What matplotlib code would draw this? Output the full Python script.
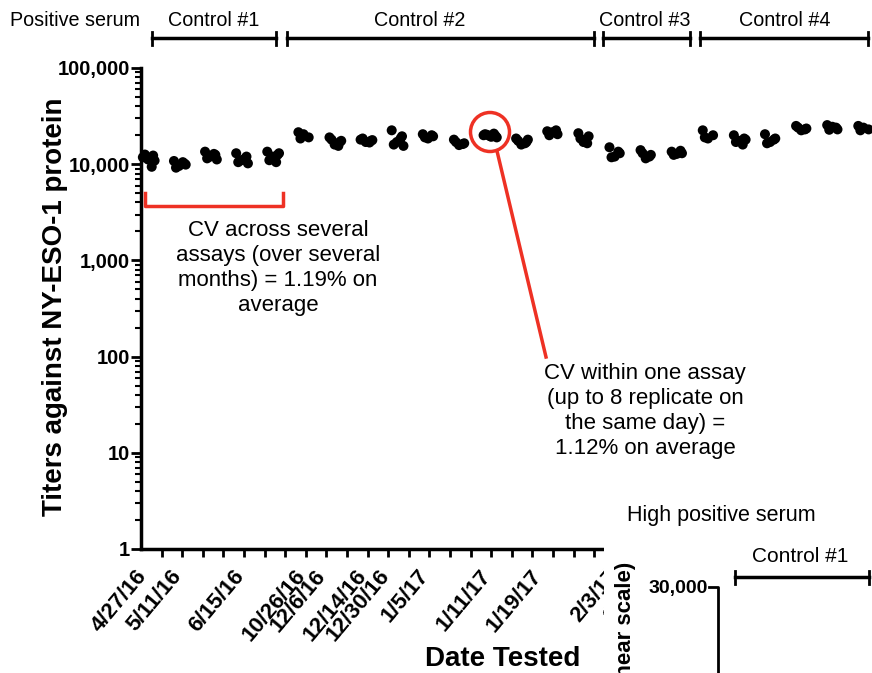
import matplotlib
matplotlib.use("Agg")
import matplotlib.pyplot as plt
from matplotlib.lines import Line2D
from matplotlib.patches import Ellipse
from matplotlib.transforms import ScaledTranslation
from matplotlib.ticker import FixedLocator, LogLocator, FuncFormatter, NullFormatter

plt.rcParams['font.family'] = ['Liberation Sans', 'DejaVu Sans']

# ---------------- data ----------------
control1_titers = [
    [11800, 12300, 11200, 12600, 9400, 10900],
    [10800, 10200, 9600, 9200, 10500, 9900],
    [13500, 12500, 12000, 11500, 12800, 11200],
    [13000, 12000, 11000, 10500, 11500, 10200],
    [13500, 12500, 12000, 11000, 10500, 13000],
]
control2_titers = [
    [21500, 19000, 20500, 18500],
    [19000, 17000, 16000, 18000, 15500, 17500],
    [18000, 17500, 17000, 18500, 16800, 17800],
    [22500, 19500, 17000, 16000, 18500, 15500],
    [20500, 19500, 18500, 19000, 20000],
    [18000, 16500, 15800, 17000, 16200],
    [20500, 19800, 19500, 20200, 20800, 19000, 20000, 19300],
    [18500, 17000, 16000, 17500, 16500, 18000],
    [22000, 20500, 21500, 20000, 22500],
    [21000, 19500, 17000, 18500, 16500],
]
control3_titers = [
    [15000, 13000, 12000, 11800, 13500],
    [14000, 12500, 11500, 13000, 12000],
    [13500, 13000, 12800, 12500, 13800],
]
control4_titers = [
    [22500, 20000, 18500, 19000],
    [20000, 18500, 17500, 17000, 16000, 18000],
    [20500, 18500, 17000, 16500, 18000],
    [25000, 23500, 22500, 24000, 23000],
    [25500, 23000, 24500, 22800, 24000],
    [25000, 23000, 24000, 22500],
]
date_labels = ["4/27/16", "5/11/16", "6/15/16", "10/26/16", "12/6/16", "12/14/16",
               "12/30/16", "1/5/17", "1/11/17", "1/19/17", "2/3/17", "2/9/17"]
date_label_pos = [0.0, 1.7, 4.75, 7.7, 8.7, 10.7, 11.8, 13.7, 16.7, 19.2, 22.9, 24.5]
ytick_values = [1, 10, 100, 1000, 10000, 100000]
control_names = ["Control #1", "Control #2", "Control #3", "Control #4"]

# ---------------- figure ----------------
W, H = 872, 673
fig = plt.figure(figsize=(W / 100, H / 100), dpi=100)

def fx(x):
    return x / W

def fy(y):
    return 1 - y / H

TICK_PX = 20.6
ax = fig.add_axes([fx(141), fy(549), (W - 141) / W, (549 - 68) / H])
ax.set_yscale('log')
ax.set_ylim(1, 100000)
ax.set_xlim(0, (W - 141) / TICK_PX)

all_groups = control1_titers + control2_titers + control3_titers + control4_titers
X0, STEP = 0.34, 1.51
offsets = [-0.25, 0.25, 0.0, -0.15, 0.18, 0.32, -0.32, 0.06]
xs, ys = [], []
for i, grp in enumerate(all_groups):
    for j, v in enumerate(grp):
        xs.append(X0 + STEP * i + offsets[j % len(offsets)])
        ys.append(v)
ax.scatter(xs, ys, s=52, c='black', edgecolors='none', zorder=3, clip_on=False)

# spines
for s in ['top', 'right']:
    ax.spines[s].set_visible(False)
for s in ['left', 'bottom']:
    ax.spines[s].set_linewidth(2.5)

ax.yaxis.set_major_locator(FixedLocator(ytick_values))
ax.yaxis.set_major_formatter(FuncFormatter(lambda v, p: f"{v:,.0f}"))
ax.yaxis.set_minor_locator(LogLocator(base=10, subs=range(2, 10)))
ax.yaxis.set_minor_formatter(NullFormatter())
ax.tick_params(axis='y', which='major', direction='out', length=7, width=2, labelsize=14.5, pad=1)
ax.tick_params(axis='y', which='minor', direction='out', length=4, width=1.5)
for lab in ax.get_yticklabels():
    lab.set_fontweight('bold')

# x: tick marks as minor ticks, date labels as (markless) major ticks
ax.xaxis.set_minor_locator(FixedLocator(list(range(0, 36))))
ax.xaxis.set_major_locator(FixedLocator(date_label_pos))
ax.set_xticklabels(date_labels, rotation=50, ha='right', rotation_mode='anchor',
                   fontsize=16, fontweight='bold')
ax.tick_params(axis='x', which='minor', direction='out', length=6, width=2)
ax.tick_params(axis='x', which='major', length=0, pad=12)
shift = ScaledTranslation(-6 / 100, 0, fig.dpi_scale_trans)
for lab in ax.get_xticklabels():
    lab.set_transform(lab.get_transform() + shift)

# axis labels
fig.text(fx(55), fy(307), "Titers against NY-ESO-1 protein", rotation=90,
         ha='center', va='center', fontsize=20, fontweight='bold')
fig.text(fx(503), fy(659), "Date Tested", ha='center', va='center',
         fontsize=20, fontweight='bold')

# top annotations
fig.text(fx(10), fy(21), "Positive serum", ha='left', va='center', fontsize=14.2)
brackets = [(152, 276), (287, 594), (603, 690), (700, 868)]
text_x = [214, 420, 645, 785]
for (x1, x2), tx, name in zip(brackets, text_x, control_names):
    fig.add_artist(Line2D([fx(x1), fx(x2)], [fy(38), fy(38)], color='black', lw=2.5))
    for xe in (x1, x2):
        fig.add_artist(Line2D([fx(xe), fx(xe)], [fy(32), fy(45)], color='black', lw=2))
    fig.text(fx(tx), fy(21), name, ha='center', va='center', fontsize=14.2)

RED = '#ee3124'
fig.add_artist(Line2D([fx(145), fx(145), fx(283), fx(283)], [fy(193), fy(206), fy(206), fy(193)],
                      color=RED, lw=2.5))
fig.text(fx(278), fy(268), "CV across several\nassays (over several\nmonths) = 1.19% on\naverage",
         ha='center', va='center', fontsize=16, linespacing=1.24)

fig.add_artist(Ellipse((fx(490), fy(132)), 2 * 19.5 / W, 2 * 19.5 / H, transform=fig.transFigure,
                       fill=False, edgecolor=RED, lw=2.5, zorder=5))
fig.add_artist(Line2D([fx(497), fx(546)], [fy(151), fy(357)], color=RED, lw=2.5))
fig.text(fx(645), fy(411), "CV within one assay\n(up to 8 replicate on\nthe same day) =\n1.12% on average",
         ha='center', va='center', fontsize=16, linespacing=1.24)

# overlay of the next panel (bottom right)
ax2 = fig.add_axes([fx(604), 0, (W - 604) / W, (673 - 490) / H], zorder=10)
ax2.set_facecolor('white')
ax2.set_axis_off()
ax2.add_patch(plt.Rectangle((0, 0), 1, 1, transform=ax2.transAxes, color='white', zorder=0))
fig.text(fx(627), fy(516), "High positive serum", ha='left', va='center', fontsize=15.5, zorder=11)
fig.text(fx(800), fy(556), "Control #1", ha='center', va='center', fontsize=15, zorder=11)
fig.add_artist(Line2D([fx(735), fx(869)], [fy(577), fy(577)], color='black', lw=2.5, zorder=11))
for xe in (735, 869):
    fig.add_artist(Line2D([fx(xe), fx(xe)], [fy(571), fy(584)], color='black', lw=2, zorder=11))
fig.text(fx(708), fy(588), "30,000", ha='right', va='center', fontsize=14, fontweight='bold', zorder=11)
fig.add_artist(Line2D([fx(709), fx(718), fx(718)], [fy(587), fy(587), fy(673)], color='black', lw=2, zorder=11))
fig.text(fx(626), fy(562), "Titers against NY-ESO-1 (linear scale)", rotation=90, ha='center', va='top',
         fontsize=16, fontweight='bold', zorder=11)

fig.savefig("out.png", dpi=100)
